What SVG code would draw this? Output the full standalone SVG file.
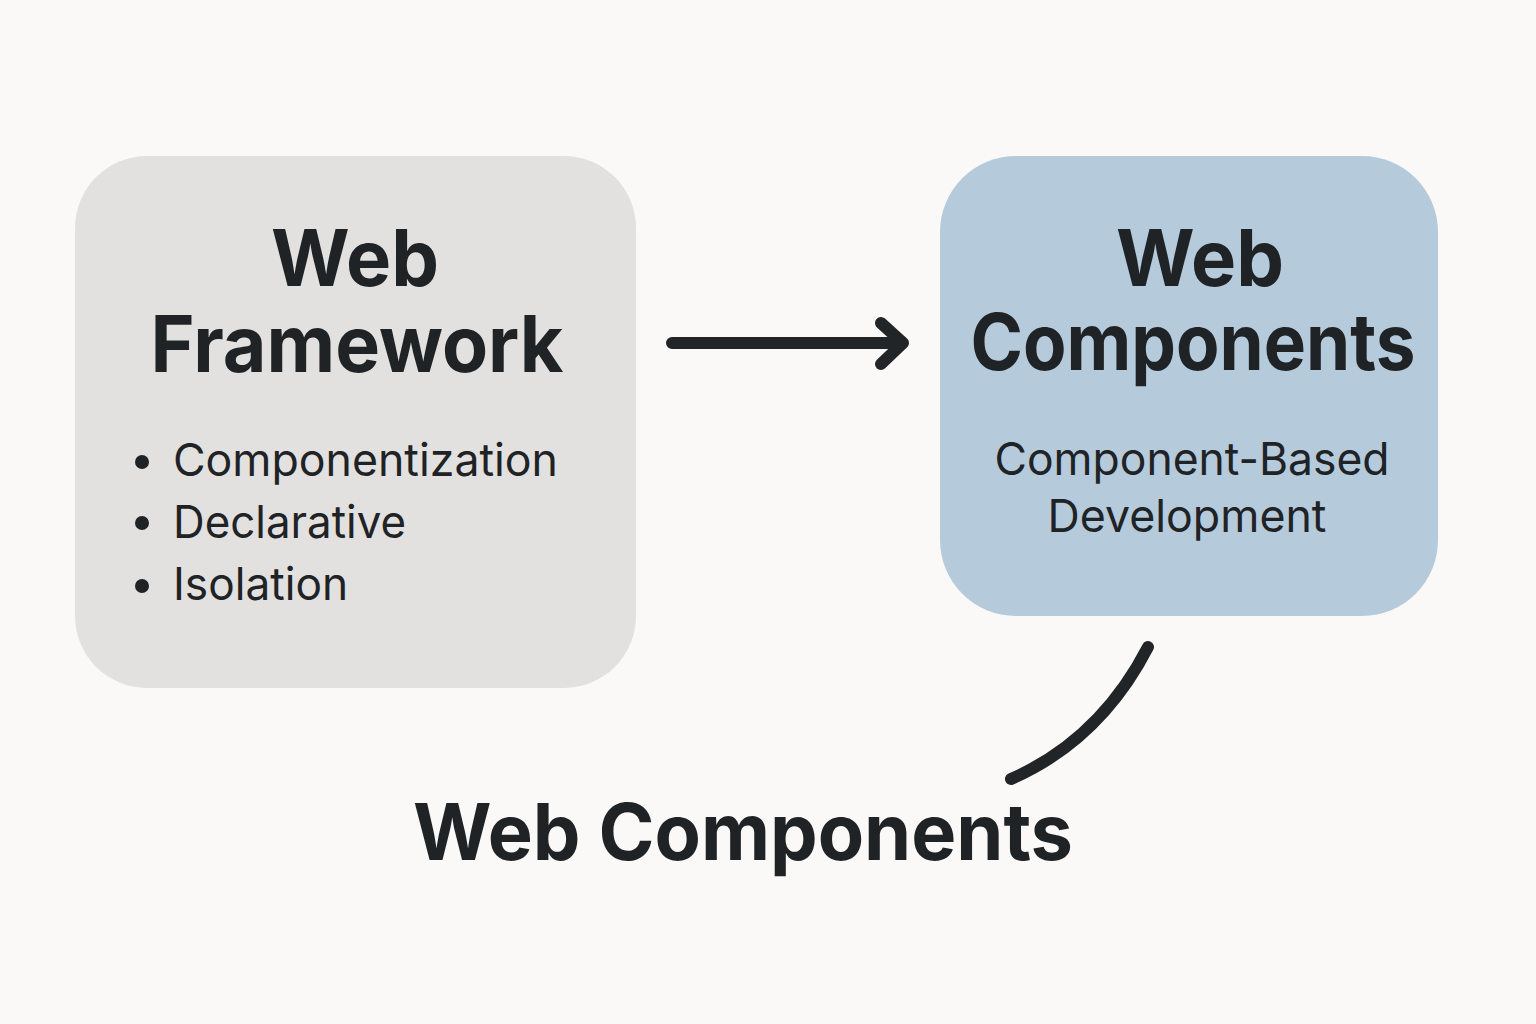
<svg xmlns="http://www.w3.org/2000/svg" width="1536" height="1024" viewBox="0 0 1536 1024">
<style>
.t{font-family:Inter,"Open Sans","Liberation Sans",sans-serif;fill:#1f2326;text-anchor:middle}
.h{font-weight:700;font-size:78px}
.b{font-weight:400;font-size:45px}
.c{fill:none;stroke:#222527;stroke-width:12;stroke-linecap:round;stroke-linejoin:round}
</style>
<rect width="1536" height="1024" fill="#faf9f7"/>
<g id="web-framework">
<rect x="75" y="156" width="561" height="532" rx="72" fill="#e2e1df"/>
<text class="t h" x="355" y="286" textLength="168" lengthAdjust="spacingAndGlyphs">Web</text>
<text class="t h" x="357" y="372" textLength="413" lengthAdjust="spacingAndGlyphs">Framework</text>
<circle cx="142" cy="462" r="7" fill="#1f2326"/>
<circle cx="142" cy="523" r="7" fill="#1f2326"/>
<circle cx="142" cy="586" r="7" fill="#1f2326"/>
<text class="t b" x="173" y="476" style="text-anchor:start" textLength="385" lengthAdjust="spacingAndGlyphs">Componentization</text>
<text class="t b" x="173" y="538" style="text-anchor:start" textLength="233" lengthAdjust="spacingAndGlyphs">Declarative</text>
<text class="t b" x="173" y="600" style="text-anchor:start" textLength="175" lengthAdjust="spacingAndGlyphs">Isolation</text>
</g>
<g id="web-components">
<rect x="940" y="156" width="498" height="460" rx="76" fill="#b5cadb"/>
<text class="t h" x="1200" y="286" textLength="168" lengthAdjust="spacingAndGlyphs">Web</text>
<text class="t h" x="1193" y="370" textLength="445" lengthAdjust="spacingAndGlyphs">Components</text>
<text class="t b" x="1192" y="475" textLength="395" lengthAdjust="spacingAndGlyphs">Component-Based</text>
<text class="t b" x="1187" y="532" textLength="279" lengthAdjust="spacingAndGlyphs">Development</text>
</g>
<g id="label">
<text class="t h" x="743" y="860" textLength="660" lengthAdjust="spacingAndGlyphs">Web Components</text>
</g>
<g id="connectors">
<path class="c" d="M672 343 H902 M881 323 L903 343 L881 364"/>
<path class="c" d="M1148 647 Q1100 740 1011 779"/>
</g>
</svg>
